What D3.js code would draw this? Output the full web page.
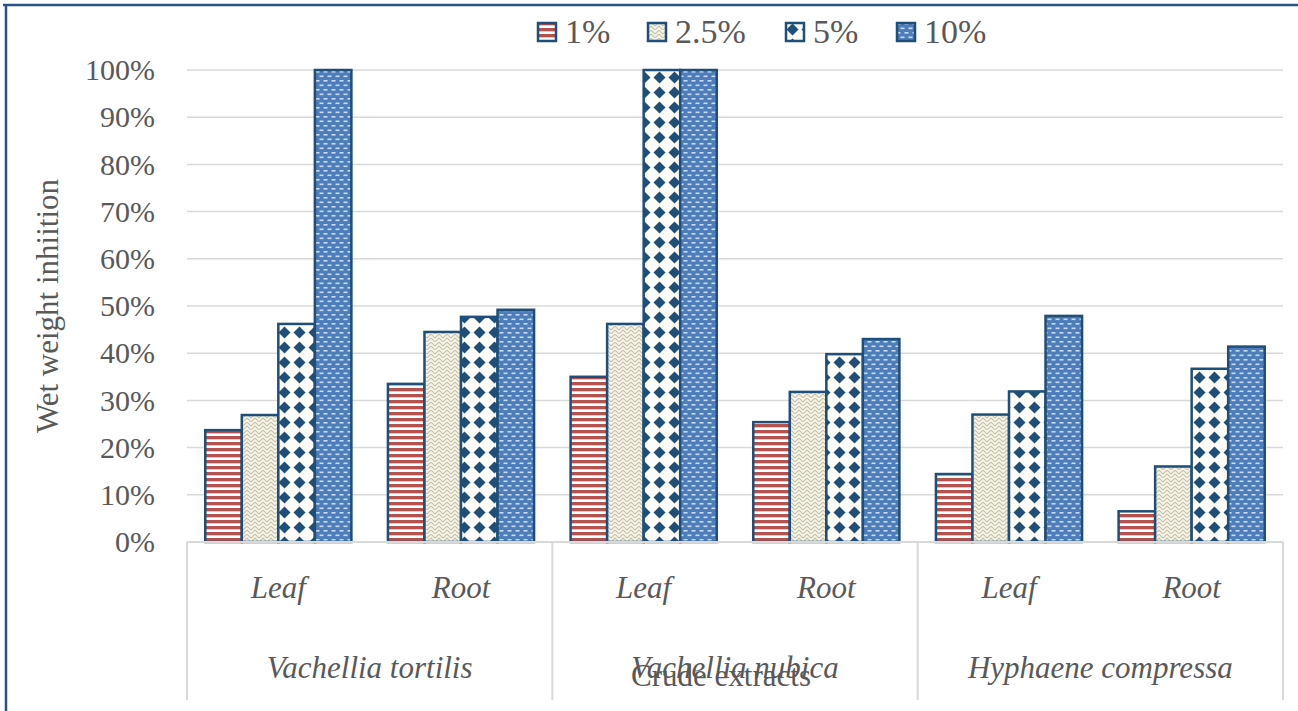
<!DOCTYPE html>
<html>
<head>
<meta charset="utf-8">
<script src="https://cdn.jsdelivr.net/npm/d3@7"></script>
<style>
  html, body { margin: 0; padding: 0; background: #fff; }
  svg { display: block; }
</style>
</head>
<body>
<div id="chart"></div>
<script>
// data
const species = ['Vachellia tortilis', 'Vachellia nubica', 'Hyphaene compressa'];
const parts = ['Leaf', 'Root'];
const concentrations = ['1%', '2.5%', '5%', '10%'];
const yTicks = [0, 10, 20, 30, 40, 50, 60, 70, 80, 90, 100];

// one value per species/part: VT leaf, VT root, VN leaf, VN root, HC leaf, HC root
const c1 = [23.7, 33.5, 35.0, 25.4, 14.4, 6.5];
const c25 = [26.9, 44.5, 46.2, 31.8, 27.0, 16.0];
const c5 = [46.2, 47.7, 100, 39.8, 31.9, 36.7];
const c10 = [100, 49.2, 100, 43.0, 47.9, 41.4];
const seriesValues = [c1, c25, c5, c10];

const width = 1298;
const height = 711;
const margin = { top: 70, right: 15, bottom: 169, left: 187 };
const plotW = width - margin.left - margin.right;
const plotH = height - margin.top - margin.bottom;
const navy = '#1f4e79';
const serif = 'Liberation Serif, Times New Roman, serif';
const textCol = '#595959';

const svg = d3
  .select('#chart')
  .append('svg')
  .attr('width', width)
  .attr('height', height)
  .attr('font-family', serif);

// fill patterns (Excel-like)
const defs = svg.append('defs');

const pStripe = defs.append('pattern').attr('id', 'p0')
  .attr('patternUnits', 'userSpaceOnUse').attr('width', 6).attr('height', 6);
pStripe.append('rect').attr('width', 6).attr('height', 6).attr('fill', '#ffffff');
pStripe.append('rect').attr('y', 0).attr('width', 6).attr('height', 3).attr('fill', '#b3524e');
pStripe.append('rect').attr('y', 3).attr('width', 6).attr('height', 1).attr('fill', '#e6c3c1');

const pWeave = defs.append('pattern').attr('id', 'p1')
  .attr('patternUnits', 'userSpaceOnUse').attr('width', 8).attr('height', 8);
pWeave.append('rect').attr('width', 8).attr('height', 8).attr('fill', '#f7f5ea');
pWeave.append('path')
  .attr('d', 'M0,8 L4,4 L8,8 M0,4 L4,0 L8,4')
  .attr('fill', 'none').attr('stroke', '#c8c3aa').attr('stroke-width', 1.1);

const pDiamond = defs.append('pattern').attr('id', 'p2')
  .attr('patternUnits', 'userSpaceOnUse').attr('width', 15).attr('height', 15);
pDiamond.append('rect').attr('width', 15).attr('height', 15).attr('fill', '#fdfcf8');
pDiamond.append('path')
  .attr('d', 'M7.5,1.5 L13.5,7.5 L7.5,13.5 L1.5,7.5 Z')
  .attr('fill', navy);

const pDots = defs.append('pattern').attr('id', 'p3')
  .attr('patternUnits', 'userSpaceOnUse').attr('width', 8).attr('height', 9);
pDots.append('rect').attr('width', 8).attr('height', 9).attr('fill', '#4d7dbb');
pDots.append('rect').attr('x', 0.5).attr('y', 1).attr('width', 4).attr('height', 1.6).attr('fill', '#c9dcf0');
pDots.append('rect').attr('x', 4.5).attr('y', 5.5).attr('width', 4).attr('height', 1.6).attr('fill', '#c9dcf0');
pDots.append('rect').attr('x', -3.5).attr('y', 5.5).attr('width', 4).attr('height', 1.6).attr('fill', '#c9dcf0');

// outer frame (top + left edges visible)
svg.append('path')
  .attr('d', `M3,5 H${width} M6,5 V${height}`)
  .attr('fill', 'none')
  .attr('stroke', '#2a5488')
  .attr('stroke-width', 2.5);

const g = svg.append('g').attr('transform', `translate(${margin.left},${margin.top})`);

// scales
const y = d3.scaleLinear().domain([0, 100]).range([plotH, 0]);
const xSpecies = d3.scaleBand().domain(species).range([0, plotW]);
const xPart = d3.scaleBand().domain(parts).range([0, xSpecies.bandwidth()]);
const xConc = d3.scaleBand().domain(concentrations).range([0, xPart.bandwidth()])
  .paddingInner(0).paddingOuter(0.5);

// gridlines
g.append('g')
  .selectAll('line')
  .data(yTicks.filter((t) => t > 0))
  .enter()
  .append('line')
  .attr('x1', 0)
  .attr('x2', plotW)
  .attr('y1', (d) => y(d))
  .attr('y2', (d) => y(d))
  .attr('stroke', '#d9d9d9')
  .attr('stroke-width', 1.5);

// y axis tick labels
const yAxis = g.append('g').call(
  d3.axisLeft(y).tickValues(yTicks).tickFormat((d) => d + '%').tickSize(0).tickPadding(32)
);
yAxis.attr('font-family', serif).attr('font-size', 30);
yAxis.select('.domain').remove();
yAxis.selectAll('text').attr('fill', textCol);

// bars
const cats = [];
species.forEach((s) => parts.forEach((p) => cats.push({ s, p })));

seriesValues.forEach((vals, si) => {
  g.append('g')
    .selectAll('rect')
    .data(vals)
    .enter()
    .append('rect')
    .attr('x', (d, i) => xSpecies(cats[i].s) + xPart(cats[i].p) + xConc(concentrations[si]))
    .attr('y', (d) => y(d))
    .attr('width', xConc.bandwidth())
    .attr('height', (d) => plotH - y(d))
    .attr('fill', `url(#p${si})`)
    .attr('stroke', navy)
    .attr('stroke-width', 2.5);
});

// category axis: baseline + group separators
const axisCol = '#d9d9d9';
g.append('line')
  .attr('x1', 0).attr('x2', plotW)
  .attr('y1', plotH).attr('y2', plotH)
  .attr('stroke', axisCol).attr('stroke-width', 2);

g.append('g')
  .selectAll('line')
  .data(species.map((s) => xSpecies(s)).concat([plotW]))
  .enter()
  .append('line')
  .attr('x1', (d) => d).attr('x2', (d) => d)
  .attr('y1', plotH).attr('y2', plotH + 158)
  .attr('stroke', axisCol).attr('stroke-width', 2);

// part labels (Leaf / Root)
g.append('g')
  .selectAll('text')
  .data(cats)
  .enter()
  .append('text')
  .attr('x', (d) => xSpecies(d.s) + xPart(d.p) + xPart.bandwidth() / 2)
  .attr('y', plotH + 56)
  .attr('text-anchor', 'middle')
  .attr('font-size', 31)
  .attr('font-style', 'italic')
  .attr('fill', textCol)
  .text((d) => d.p);

// species labels
g.append('g')
  .selectAll('text')
  .data(species)
  .enter()
  .append('text')
  .attr('x', (d) => xSpecies(d) + xSpecies.bandwidth() / 2)
  .attr('y', plotH + 136)
  .attr('text-anchor', 'middle')
  .attr('font-size', 31)
  .attr('font-style', 'italic')
  .attr('fill', textCol)
  .text((d) => d);

// axis titles (x title overlaps the middle species label, as in the original)
svg.append('text')
  .attr('x', 721)
  .attr('y', 686)
  .attr('text-anchor', 'middle')
  .attr('font-size', 31)
  .attr('fill', textCol)
  .text('Crude extracts');

svg.append('text')
  .attr('transform', 'translate(58,306) rotate(-90)')
  .attr('text-anchor', 'middle')
  .attr('font-size', 31)
  .attr('fill', textCol)
  .text('Wet weight inhiition');

// legend
const legendX = [537, 647, 785, 896];
const legend = svg.append('g')
  .selectAll('g')
  .data(concentrations)
  .enter()
  .append('g')
  .attr('transform', (d, i) => `translate(${legendX[i]},22)`);

legend.append('rect')
  .attr('x', 1)
  .attr('y', 1)
  .attr('width', 18)
  .attr('height', 18)
  .attr('fill', (d, i) => `url(#p${i})`)
  .attr('stroke', navy)
  .attr('stroke-width', 2.5);

legend.append('text')
  .attr('x', 28)
  .attr('y', 21)
  .attr('font-size', 34)
  .attr('fill', textCol)
  .text((d) => d);
</script>
</body>
</html>
